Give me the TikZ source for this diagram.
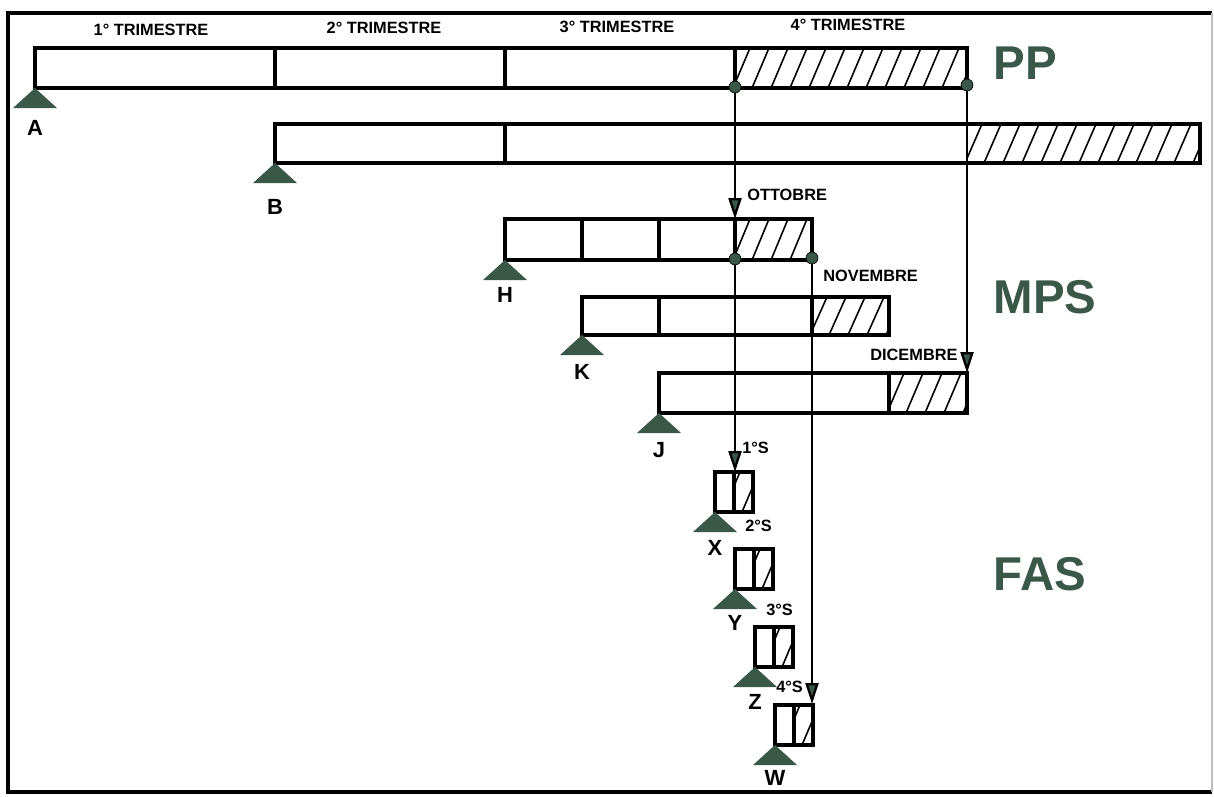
\documentclass[tikz,border=0pt]{standalone}
\usepackage{fontspec}
\setmainfont{Liberation Sans}
\usetikzlibrary{arrows.meta}

\definecolor{darkgreen}{RGB}{58,88,72}

\tikzset{
    bar/.style={line width=1.9pt},
    hatchline/.style={line width=0.9pt},
    feed/.style={line width=1.3pt, -{Triangle[length=4.2mm, width=2.6mm, fill=darkgreen]}},
    joint/.style={fill=darkgreen, draw=black, line width=0.4pt},
    support/.style={fill=darkgreen},
    period/.style={font=\bfseries\fontsize{9.3}{10}\selectfont, inner sep=0pt},
    letter/.style={font=\bfseries\fontsize{12.5}{13}\selectfont, inner sep=0pt},
    level/.style={font=\bfseries\fontsize{27}{28}\selectfont, text=darkgreen, inner sep=0pt}
}

% hatched cell: x1, y1 (top), x2, y2 (bottom), phase
\newcommand{\hatchcell}[5][0]{%
    \begin{scope}
        \clip (#2,#3) rectangle (#4,#5);
        \foreach \h in {-40,-21,...,250}
            \draw[hatchline] ({#2+\h+#1},#5) -- ({#2+\h+#1+17},#3);
    \end{scope}}

\begin{document}
\begin{tikzpicture}[x=0.02cm, y=-0.02cm]
    \useasboundingbox (0,0) rectangle (1214,796);

    % Frame
    \draw[line width=1.8pt] (1212,13) -- (8,13) -- (8,792) -- (1212,792);
    \draw[line width=0.6pt, black!25] (1212,13) -- (1212,792);

    % ==========================================
    % PP: quarters
    % ==========================================
    \hatchcell{735}{48}{967}{88}
    \draw[bar] (35,48) rectangle (967,88);
    \foreach \x in {275,505,735}
        \draw[bar] (\x,48) -- (\x,88);
    \node[period] (q1) at (151,30) {1° TRIMESTRE};
    \node[period] (q2) at (384,28) {2° TRIMESTRE};
    \node[period] (q3) at (617,27) {3° TRIMESTRE};
    \node[period] (q4) at (848,25) {4° TRIMESTRE};

    % Second PP bar
    \hatchcell{967}{124}{1200}{163}
    \draw[bar] (275,124) rectangle (1200,163);
    \draw[bar] (505,124) -- (505,163);

    % ==========================================
    % MPS: months
    % ==========================================
    \hatchcell{735}{219}{812}{260}
    \draw[bar] (505,219) rectangle (812,260);
    \foreach \x in {582,659,735}
        \draw[bar] (\x,219) -- (\x,260);

    \hatchcell{812}{297}{889}{335}
    \draw[bar] (582,297) rectangle (889,335);
    \foreach \x in {659,812}
        \draw[bar] (\x,297) -- (\x,335);

    \hatchcell{889}{373}{967}{413}
    \draw[bar] (659,373) rectangle (967,413);
    \draw[bar] (889,373) -- (889,413);

    \node[period, anchor=west] (oct) at (747,195) {OTTOBRE};
    \node[period, anchor=west] (nov) at (823,276) {NOVEMBRE};
    \node[period, anchor=west] (dec) at (870,355) {DICEMBRE};

    % ==========================================
    % FAS: weeks
    % ==========================================
    \foreach \x/\y in {715/472, 735/549, 755/627, 775/705} {
        \hatchcell[-10]{\x+20}{\y}{\x+38}{\y+40}
        \draw[bar] (\x,\y) rectangle (\x+38,\y+40);
        \draw[bar] (\x+19,\y) -- (\x+19,\y+40);
    }
    \node[period, anchor=west] (w1) at (742,448) {1°S};
    \node[period, anchor=west] (w2) at (745,526) {2°S};
    \node[period, anchor=west] (w3) at (766,610) {3°S};
    \node[period, anchor=west] (w4) at (776,687) {4°S};

    % Level names
    \node[level] (pp) at (1025,63) {PP};
    \node[level] (mps) at (1045,297) {MPS};
    \node[level] (fas) at (1040,574) {FAS};

    % Supports
    \foreach \name/\x/\y/\ly in {A/35/88/128, B/275/163/207, H/505/260/295,
            K/582/335/372, J/659/413/450, X/715/512/548, Y/735/589/623,
            Z/755/667/702, W/775/745/778} {
        \fill[support] (\x,\y) -- ++(-22,20) -- ++(44,0) -- cycle;
        \node[letter] (lbl\name) at (\x,\ly) {\name};
    }

    % Links between levels
    \coordinate (ppq4) at (735,87);
    \coordinate (ppend) at (967,85);
    \coordinate (octin) at (735,219);
    \coordinate (octout) at (735,259);
    \coordinate (octend) at (812,258);
    \coordinate (decin) at (967,373);
    \coordinate (wkone) at (735,472);
    \coordinate (wkfour) at (812,704);

    \draw[feed] (ppq4) -- (octin);
    \draw[feed] (octout) -- (wkone);
    \draw[feed] (ppend) -- (decin);
    \draw[feed] (octend) -- (wkfour);

    \foreach \c in {ppq4, ppend, octout, octend}
        \filldraw[joint] (\c) circle (3.4pt);
\end{tikzpicture}
\end{document}
